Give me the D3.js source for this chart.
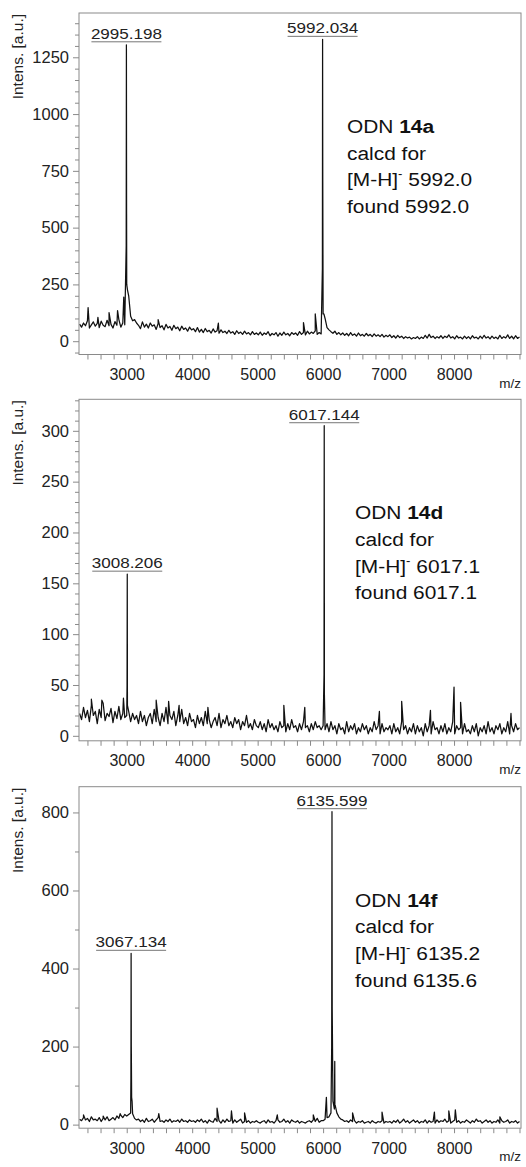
<!DOCTYPE html>
<html lang="en">
<head>
<meta charset="UTF-8">
<script src="https://cdn.jsdelivr.net/npm/d3@7"></script>
<title>MALDI spectra ODN 14a / 14d / 14f</title>
<style>
    html, body {
        margin: 0;
        padding: 0;
        background: #fff;
        font-family: "Liberation Sans", Arial, sans-serif;
        color: #222;
    }
</style>
</head>
<body>
<div id="chart"></div>
<script>

const mzStart = 2280;
const mzStep = 30;

const noise14a = [
    75,62,80,68,90,58,72,85,66,78, 60,88,70,64,92,68,74,58,86,70, 95,62,80,72,
    250,200,110,90,95,80,
    70,55,85,62,75,58,80,66,72,52, 78,60,68,50,74,58,65,48,70,55, 62,46,66,52,58,44,62,50,
    55,42,60,40,52,38,56,42,48,36, 54,40,46,35,50,38,44,34,48,36, 42,30,46,34,40,30,44,32,38,28, 42,30,36,
    28,40,26,36,30,42,24,34,28,38, 22,36,26,40,28,34,24,38,30,36, 26,42,30,38,28,44,32,40,34,45, 30,38,32,
    120,100,60,50,42,35,44,30,38,28, 36,26,34,24,38,26,32,22,36,24, 30,22,34,24,30,20,32,22,28,20, 30,18,26,20,
    28,16,24,14,26,16,22,12,20,14, 18,10,16,12,20,10,18,12,26,14, 30,16,22,12,20,14,24,12,22,16,
    28,14,20,10,24,14,18,10,22,12, 20,10,24,14,18,10,22,12,26,14, 20,10,22,12,18,10,26,12,20,14,
    28,12,22,10,24,12,18
];
const spikes14a = [
    [2410,148],[2560,105],[2730,126],[2860,135],[2955,194],[2992,420],[2998,560],[3012,225],
    [3480,95],[4400,80],[5700,82],[5880,120],[5989,320],[5995,700],[6012,120]
];
const peakMz14a = [2995.198, 5992.034];
const peakInt14a = [1305, 1329];

const noise14d = [
    22,16,28,18,25,14,30,20,24,12, 26,18,32,15,22,19,27,13,24,17, 29,16,22,18,
    20,24,14,22,16,20,
    12,24,14,20,10,18,22,12,26,14, 18,10,22,14,28,12,20,16,24,10, 20,14,26,12,18,10,22,14,
    16,8,20,12,18,10,24,12,16,8, 14,18,10,22,8,16,12,20,10,14, 8,18,12,16,6,14,10,20,8,12, 6,16,10,
    8,14,6,12,4,16,8,12,6,10, 4,14,8,10,4,12,6,16,8,10, 4,12,6,14,8,10,4,12,6,14, 8,10,6,
    10,6,12,4,14,6,10,2,12,6, 8,2,14,4,10,6,12,2,8,4, 12,6,10,2,8,4,14,6,10,2, 12,4,8,6,
    10,2,12,4,8,2,14,6,10,2, 8,4,12,2,10,4,8,0,12,4, 10,2,14,6,8,2,10,4,12,2,
    8,4,14,2,10,6,8,2,12,4, 6,2,10,4,12,0,8,4,10,2, 14,4,8,2,10,6,12,2,8,4,
    14,2,10,4,12,6,8
];
const spikes14d = [
    [2460,36],[2620,35],[2950,37],[3005,50],[3011,30],[3450,35],[3640,34],[3800,30],[4240,28],
    [5400,30],[5720,28],[6014,60],[6020,40],[6860,24],[7200,34],[7640,25],[8000,48],[8100,33],[8870,22]
];
const peakMz14d = [3008.206, 6017.144];
const peakInt14d = [159, 305];

const noise14f = [
    14,10,18,12,16,8,20,12,14,10, 18,8,16,12,20,10,14,18,12,22, 16,24,18,26,
    22,26,30,28,16,12,
    14,8,12,6,16,8,10,14,6,12, 18,8,10,6,12,8,14,6,10,8, 12,6,14,8,10,6,12,8,
    10,6,12,8,14,6,10,4,12,8, 6,16,8,10,4,12,6,14,8,10, 4,12,6,10,14,4,8,6,10,4, 8,6,10,
    6,4,8,10,4,12,6,8,4,10, 12,6,8,14,6,10,4,12,8,6, 10,4,8,6,4,8,10,6,12,8, 16,6,10,
    10,14,18,20,30,60,50,30,20,14, 12,8,10,6,12,8,10,4,8,6, 10,4,6,8,4,10,6,4,8,6, 10,4,8,6,
    8,4,10,6,12,4,8,14,6,10, 4,8,12,6,10,4,8,6,12,4, 10,6,8,4,12,6,10,8,14,6,
    10,4,8,12,6,10,4,8,6,12, 8,4,10,6,14,8,10,4,8,12, 6,10,4,8,6,12,4,10,6,8,
    12,4,8,6,10,4,8
];
const spikes14f = [
    [2340,25],[2640,22],[2900,28],[3064,120],[3070,200],[3075,70],[3082,60],[3490,28],
    [4380,42],[4600,35],[4800,30],[5300,25],[5850,25],[6050,70],[6131,200],[6139,300],
    [6172,40],[6178,162],[6184,50],[6450,30],[6900,32],[7700,32],[7920,35],[8020,38],[8700,20]
];
const peakMz14f = [3067.134, 6135.599];
const peakInt14f = [439, 802];

const xDomain = [2271, 9023];
const xMajor = [3000, 4000, 5000, 6000, 7000, 8000];

const panels = [
    {top: 13, yDomain: [-58.6, 1445], major: 250, minor: 50, noise: noise14a, spikes: spikes14a,
     peakMz: peakMz14a, peakInt: peakInt14a, name: '14a', calcd: '5992.0', found: '5992.0', textX: 347},
    {top: 399.3, yDomain: [-4.9, 331], major: 50, minor: 10, noise: noise14d, spikes: spikes14d,
     peakMz: peakMz14d, peakInt: peakInt14d, name: '14d', calcd: '6017.1', found: '6017.1', textX: 355},
    {top: 786.7, yDomain: [-9.2, 866], major: 200, minor: 100, noise: noise14f, spikes: spikes14f,
     peakMz: peakMz14f, peakInt: peakInt14f, name: '14f', calcd: '6135.2', found: '6135.6', textX: 355}
];

const width = 526, height = 1167;
const left = 79, right = 521, panelH = 341.5;
const frameColor = '#8a8a8a';
const wide = 1.1; // the original lettering is a little stretched sideways

const svg = d3.select('#chart').append('svg')
    .attr('width', width).attr('height', height);

const x = d3.scaleLinear().domain(xDomain).range([left, right]);

panels.forEach((p, i) => {
    const bottom = p.top + panelH;
    const y = d3.scaleLinear().domain(p.yDomain).range([bottom, p.top]);
    const g = svg.append('g');

    // spectrum points
    let pts = p.noise.map((v, k) => [mzStart + k * mzStep, v]);
    pts = pts.concat(p.spikes, p.peakMz.map((m, k) => [m, p.peakInt[k]]));
    pts.sort((a, b) => a[0] - b[0]);

    g.append('clipPath').attr('id', 'clip' + i)
        .append('rect').attr('x', left).attr('y', p.top)
        .attr('width', right - left).attr('height', panelH);

    g.append('path')
        .datum(pts)
        .attr('clip-path', `url(#clip${i})`)
        .attr('fill', 'none')
        .attr('stroke', '#111')
        .attr('stroke-width', 1.25)
        .attr('stroke-linejoin', 'round')
        .attr('d', d3.line().x(d => x(d[0])).y(d => y(d[1])));

    // frame
    g.append('rect')
        .attr('x', left).attr('y', p.top)
        .attr('width', right - left).attr('height', panelH)
        .attr('fill', 'none').attr('stroke', frameColor).attr('stroke-width', 1);

    // x axis
    const xAxis = d3.axisBottom(x)
        .tickValues(d3.range(2400, 9001, 200))
        .tickSize(5)
        .tickFormat(d => xMajor.includes(d) ? d : '');
    const gx = g.append('g')
        .attr('transform', `translate(0,${bottom})`)
        .call(xAxis);
    gx.select('.domain').remove();
    gx.selectAll('line').attr('stroke', frameColor);
    gx.selectAll('text')
        .attr('fill', '#222')
        .attr('font-size', 16)
        .attr('font-family', '"Liberation Sans", Arial, sans-serif')
        .attr('dy', '1.1em');

    g.append('text')
        .attr('x', right).attr('y', bottom + 33)
        .attr('text-anchor', 'end')
        .attr('font-size', 13.5)
        .attr('fill', '#222')
        .text('m/z');

    // y axis
    const yMinor = d3.range(Math.ceil(p.yDomain[0] / p.minor) * p.minor, p.yDomain[1], p.minor);
    const yAxis = d3.axisLeft(y)
        .tickValues(yMinor)
        .tickSize(0)
        .tickFormat(d => d % p.major === 0 && d >= 0 ? d : '');
    const gy = g.append('g')
        .attr('transform', `translate(${left},0)`)
        .call(yAxis);
    gy.select('.domain').remove();
    gy.selectAll('.tick line')
        .attr('x2', d => d % p.major === 0 ? -6 : -4)
        .attr('stroke', frameColor);
    gy.selectAll('text')
        .attr('x', -10)
        .attr('fill', '#222')
        .attr('font-size', 16.5)
        .attr('font-family', '"Liberation Sans", Arial, sans-serif');

    g.append('text')
        .attr('transform', `translate(23,${p.top + 1}) rotate(-90)`)
        .attr('text-anchor', 'end')
        .attr('font-size', 15.5)
        .attr('fill', '#222')
        .text('Intens. [a.u.]');

    // peak labels
    p.peakMz.forEach((m, k) => {
        const py = y(p.peakInt[k]) - 3;
        g.append('line')
            .attr('x1', x(m) - 35).attr('x2', x(m) + 35)
            .attr('y1', py).attr('y2', py)
            .attr('stroke', '#777').attr('stroke-width', 1);
        g.append('text')
            .attr('transform', `translate(${x(m)},${py - 3}) scale(${wide},1)`)
            .attr('text-anchor', 'middle')
            .attr('font-size', 15.5)
            .attr('fill', '#222')
            .text(m.toFixed(3));
    });

    // compound annotation
    const ty = p.top + 120, step = 26.7;
    const t = g.append('g')
        .attr('transform', `translate(${p.textX},${ty}) scale(${wide},1)`)
        .attr('font-size', 19)
        .attr('fill', '#111');
    const l1 = t.append('text').attr('y', 0);
    l1.append('tspan').text('ODN ');
    l1.append('tspan').attr('font-weight', 'bold').text(p.name);
    t.append('text').attr('y', step).text('calcd for');
    const l3 = t.append('text').attr('y', 2 * step);
    l3.append('tspan').text('[M-H]');
    l3.append('tspan').attr('font-size', 12).attr('dy', -8).text('-');
    l3.append('tspan').attr('dy', 8).text(' ' + p.calcd);
    t.append('text').attr('y', 3 * step).text('found ' + p.found);
});

</script>
</body>
</html>
